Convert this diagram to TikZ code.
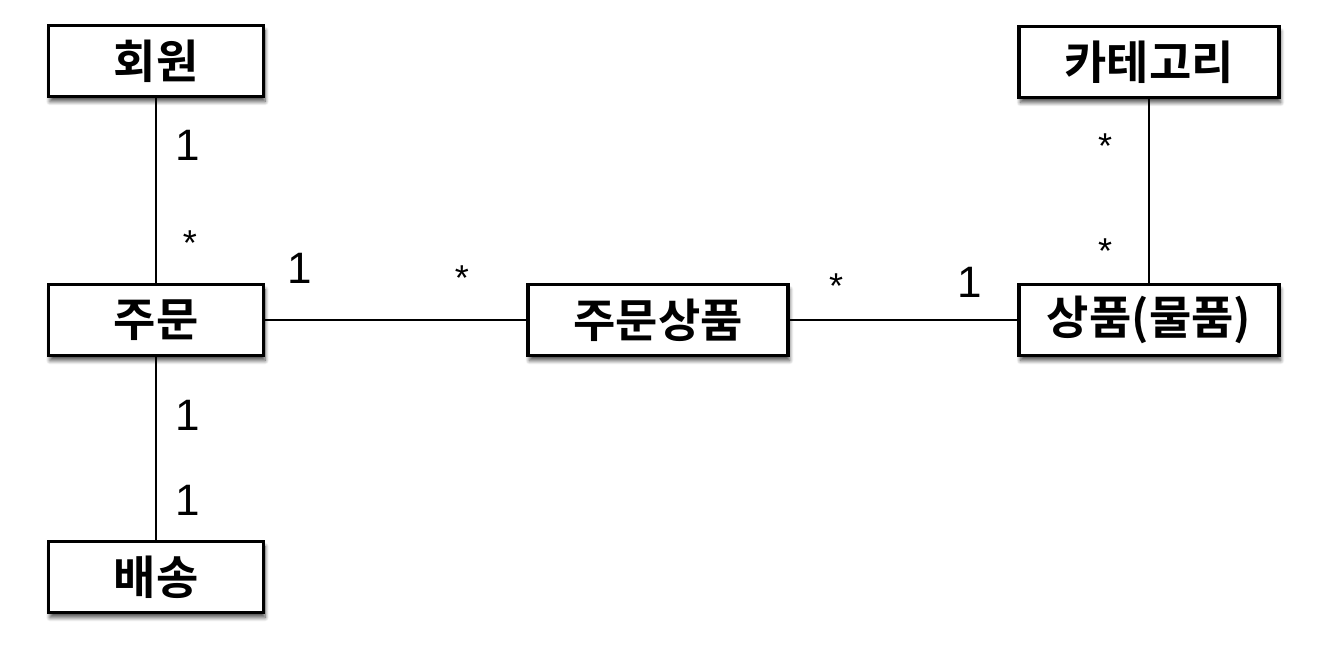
\documentclass[tikz,border=0pt]{standalone}
\usepackage{fontspec}
\setmainfont{Liberation Sans}
\newfontfamily\krfont{Noto Sans CJK KR}[BoldFont={* Bold}]
\usetikzlibrary{shadows.blur}
\begin{document}
\begin{tikzpicture}[x=1pt,y=-1pt,
  entity/.style={draw=black, line width=3.2pt, fill=white, minimum width=215pt, minimum height=71pt,
    inner sep=0pt, font=\krfont\bfseries\fontsize{46}{46}\selectfont,
    blur shadow={shadow xshift=1.5pt, shadow yshift=-5pt, shadow blur steps=8, shadow blur radius=4pt, shadow opacity=70}},
  wide/.style={minimum width=260pt},
  link/.style={line width=2.8pt},
  mult/.style={font=\fontsize{44}{44}\selectfont, inner sep=0pt},
  star/.style={font=\fontsize{36}{36}\selectfont, inner sep=0pt}]
\useasboundingbox (0,0) rectangle (1326,668);
\node[entity] (member) at (156,61) {회원};
\node[entity] (order) at (156,320) {주문};
\node[entity] (delivery) at (156,577) {배송};
\node[entity, wide] (orderitem) at (658,320) {주문상품};
\node[entity, wide] (category) at (1149,62) {카테고리};
\node[entity, wide] (item) at (1149,320) {상품(물품)};
\draw[link] (member) -- (order);
\draw[link] (order) -- (delivery);
\draw[link] (order) -- (orderitem);
\draw[link] (orderitem) -- (item);
\draw[link] (category) -- (item);
\node[mult] (m1) at (188,145) {1};
\node[star] (m2) at (190,243) {*};
\node[mult] (m3) at (300,268) {1};
\node[star] (m4) at (462,278) {*};
\node[star] (m5) at (836,286) {*};
\node[mult] (m6) at (970,282) {1};
\node[star] (m7) at (1105,146) {*};
\node[star] (m8) at (1105,251) {*};
\node[mult] (m9) at (188,415) {1};
\node[mult] (m10) at (188,500) {1};
\end{tikzpicture}
\end{document}
